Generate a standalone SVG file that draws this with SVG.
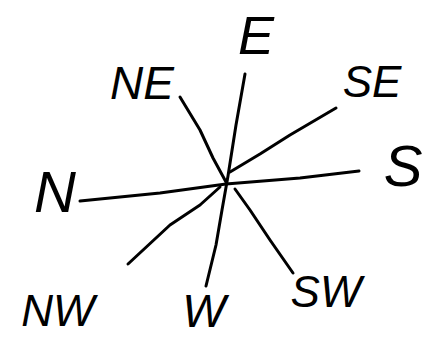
<svg xmlns="http://www.w3.org/2000/svg" width="424" height="340" viewBox="0 0 424 340">
<style>
.lbl{font-family:"Liberation Sans",Arial,sans-serif;font-style:italic;fill:#000;text-anchor:middle}
.ln{stroke:#000;stroke-width:3;fill:none;stroke-linecap:round;stroke-linejoin:round}
</style>
<rect width="424" height="340" fill="#fff"/>
<g id="connectors">
<path class="ln" d="M80,201 L160,193 L226,184 L300,178 L359,171"/>
<path class="ln" d="M245,74 L236,125 L228,176 L222,210 L216,245 L206,286"/>
<path class="ln" d="M180,97 L200,130 L213,158 L226,182"/>
<path class="ln" d="M235,189 L250,210 L270,240 L293,273"/>
<path class="ln" d="M336,108 L290,135 L260,154 L230,172"/>
<path class="ln" d="M220,187 L200,205 L170,225 L128,264"/>
</g>
<g id="node-E"><text class="lbl" x="256" y="54" font-size="54">E</text></g>
<g id="node-NE"><text class="lbl" x="142" y="99" font-size="46">NE</text></g>
<g id="node-SE"><text class="lbl" x="372" y="97" font-size="44">SE</text></g>
<g id="node-S"><text class="lbl" x="403" y="186" font-size="58">S</text></g>
<g id="node-N"><text class="lbl" x="55" y="212" font-size="58">N</text></g>
<g id="node-NW"><text class="lbl" x="58" y="326" font-size="44">NW</text></g>
<g id="node-W"><text class="lbl" x="204" y="327" font-size="46">W</text></g>
<g id="node-SW"><text class="lbl" x="326" y="307" font-size="44">SW</text></g>
</svg>
